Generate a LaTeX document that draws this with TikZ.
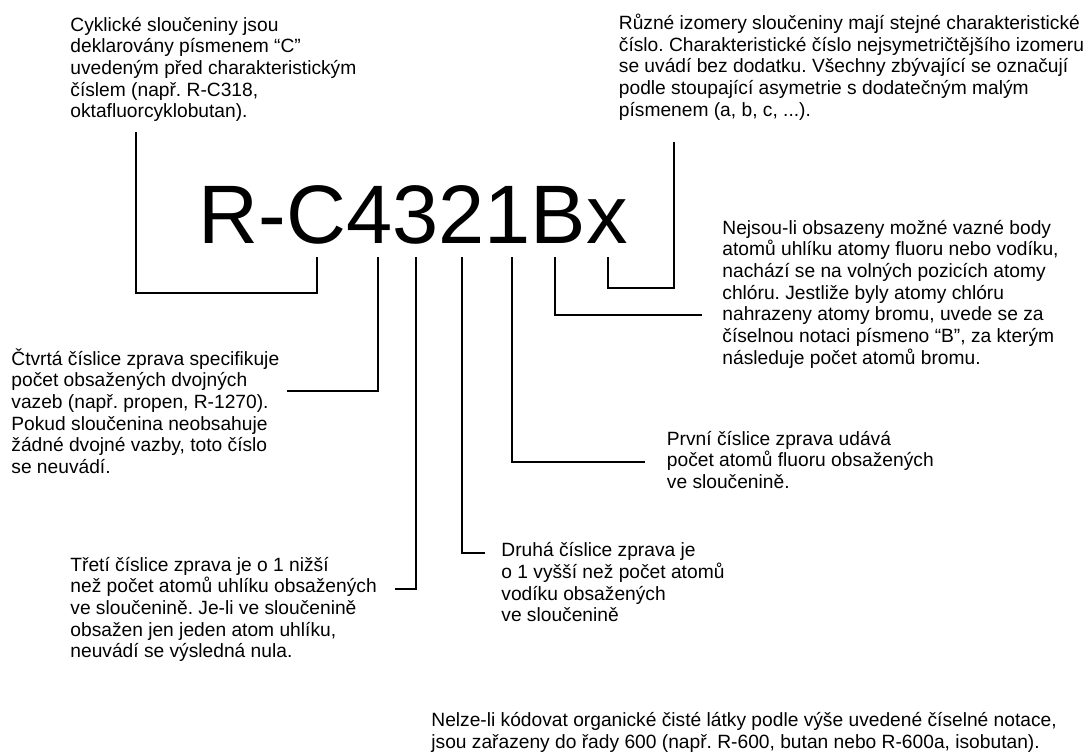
\documentclass[tikz,border=0pt]{standalone}
\usepackage{fontspec}
\setmainfont{Liberation Sans}
\usetikzlibrary{positioning}
\frenchspacing

\begin{document}
\begin{tikzpicture}[
  x=0.5pt,y=-0.5pt,
  lead/.style={line width=1pt},
  notebox/.style={anchor=base west,inner sep=0pt,align=left,
                  font=\fontsize{9.6}{10.85}\selectfont},
  codetext/.style={anchor=base west,inner sep=0pt,
                   font=\fontsize{41.5}{48}\selectfont}
]
\useasboundingbox (0,0) rectangle (1088,751);

% the refrigerant code
\node[codetext] (code) at (198.5,243) {R-C4321Bx};

% tips under the single characters
\coordinate (tipC) at (317,257);
\coordinate (tip4) at (378,257);
\coordinate (tip3) at (416,257);
\coordinate (tip2) at (462,257);
\coordinate (tip1) at (512,257);
\coordinate (tipB) at (555,257);
\coordinate (tipx) at (608,257);

% free ends of the leaders
\coordinate (cycEnd) at (136,132);
\coordinate (dblEnd) at (287,391);
\coordinate (carbEnd) at (395,588.5);
\coordinate (hydEnd) at (485,553);
\coordinate (fluEnd) at (645,461.5);
\coordinate (brEnd) at (702,315);
\coordinate (isoEnd) at (674,142);

% explanations (placed by the baseline of their last line)
\node[notebox] (cyclic) at (70,117.8)
  {Cyklické sloučeniny jsou\\
   deklarovány písmenem “C”\\
   uvedeným před charakteristickým\\
   číslem (např. R-C318,\\
   oktafluorcyklobutan).};
\node[notebox] (isomer) at (618.5,116.3)
  {Různé izomery sloučeniny mají stejné charakteristické\\
   číslo. Charakteristické číslo nejsymetričtějšího izomeru\\
   se uvádí bez dodatku. Všechny zbývající se označují\\
   podle stoupající asymetrie s dodatečným malým\\
   písmenem (a, b, c, ...).};
\node[notebox] (bromine) at (722,364.2)
  {Nejsou-li obsazeny možné vazné body\\
   atomů uhlíku atomy fluoru nebo vodíku,\\
   nachází se na volných pozicích atomy\\
   chlóru. Jestliže byly atomy chlóru\\
   nahrazeny atomy bromu, uvede se za\\
   číselnou notaci písmeno “B”, za kterým\\
   následuje počet atomů bromu.};
\node[notebox] (doublebond) at (11,473.5)
  {Čtvrtá číslice zprava specifikuje\\
   počet obsažených dvojných\\
   vazeb (např. propen, R-1270).\\
   Pokud sloučenina neobsahuje\\
   žádné dvojné vazby, toto číslo\\
   se neuvádí.};
\node[notebox] (fluorine) at (666.5,488.4)
  {První číslice zprava udává\\
   počet atomů fluoru obsažených\\
   ve sloučenině.};
\node[notebox] (hydrogen) at (501,621.8)
  {Druhá číslice zprava je\\
   o 1 vyšší než počet atomů\\
   vodíku obsažených\\
   ve sloučenině};
\node[notebox] (carbon) at (70,657.8)
  {Třetí číslice zprava je o 1 nižší\\
   než počet atomů uhlíku obsažených\\
   ve sloučenině. Je-li ve sloučenině\\
   obsažen jen jeden atom uhlíku,\\
   neuvádí se výsledná nula.};
\node[notebox] (series) at (431,748.4)
  {Nelze-li kódovat organické čisté látky podle výše uvedené číselné notace,\\
   jsou zařazeny do řady 600 (např. R-600, butan nebo R-600a, isobutan).};

% leaders
\draw[lead] (tipC) -- ++(0,36) -| (cycEnd);
\draw[lead] (tip4) |- (dblEnd);
\draw[lead] (tip3) |- (carbEnd);
\draw[lead] (tip2) |- (hydEnd);
\draw[lead] (tip1) |- (fluEnd);
\draw[lead] (tipB) |- (brEnd);
\draw[lead] (tipx) -- ++(0,31) -| (isoEnd);
\end{tikzpicture}
\end{document}
